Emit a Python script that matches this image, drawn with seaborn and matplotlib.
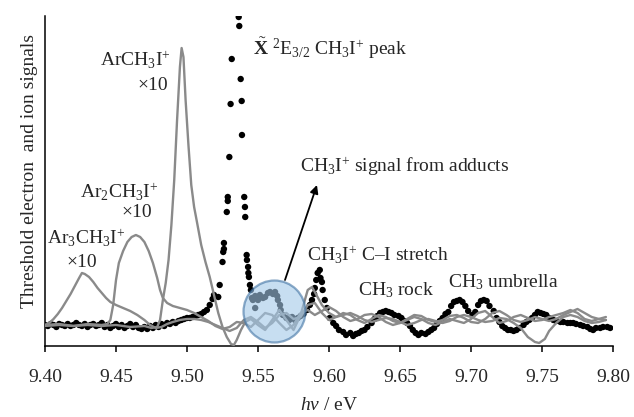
import matplotlib
matplotlib.use("Agg")
import matplotlib.pyplot as plt
import seaborn as sns
import pandas as pd

# ---------------- data ----------------
# Threshold photoelectron signal (black dots): photon energy (eV), signal (arb.)
tpes_x = [9.400, 9.402, 9.404, 9.406, 9.408, 9.410, 9.412, 9.414, 9.416, 9.418,
          9.420, 9.422, 9.424, 9.426, 9.428, 9.430, 9.432, 9.434, 9.436, 9.438,
          9.440, 9.442, 9.444, 9.446, 9.448, 9.450, 9.452, 9.454, 9.456, 9.458,
          9.460, 9.462, 9.464, 9.466, 9.468, 9.470, 9.472, 9.474, 9.476, 9.478,
          9.480, 9.482, 9.484, 9.486, 9.488, 9.490, 9.492, 9.494, 9.496, 9.498,
          9.500, 9.502, 9.504, 9.506, 9.508, 9.510, 9.512, 9.514, 9.516, 9.518,
          9.519, 9.522, 9.523, 9.525, 9.5255, 9.526, 9.526, 9.528, 9.5287, 9.5287,
          9.5298, 9.5307, 9.5315, 9.5364, 9.5368, 9.5378, 9.5385, 9.5387, 9.5403, 9.5408,
          9.541, 9.542, 9.5422, 9.543, 9.5432, 9.5436, 9.5443, 9.545, 9.5457, 9.5464,
          9.548, 9.548, 9.550, 9.5513, 9.5535, 9.555, 9.557, 9.5585, 9.5605, 9.562,
          9.5635, 9.564, 9.5655, 9.566, 9.5675, 9.570, 9.572, 9.574, 9.576, 9.578,
          9.580, 9.582, 9.5845, 9.5865, 9.588, 9.5895, 9.590, 9.591, 9.592, 9.5935,
          9.594, 9.595, 9.5955, 9.597, 9.5985, 9.6005, 9.603, 9.605, 9.607, 9.610,
          9.612, 9.615, 9.617, 9.619, 9.621, 9.623, 9.625, 9.627, 9.630, 9.632,
          9.634, 9.636, 9.638, 9.640, 9.642, 9.644, 9.646, 9.649, 9.651, 9.653,
          9.655, 9.657, 9.659, 9.661, 9.663, 9.665, 9.668, 9.670, 9.672, 9.674,
          9.676, 9.678, 9.680, 9.682, 9.684, 9.686, 9.688, 9.690, 9.692, 9.694,
          9.696, 9.698, 9.701, 9.703, 9.705, 9.707, 9.709, 9.711, 9.713, 9.716,
          9.718, 9.720, 9.722, 9.724, 9.726, 9.728, 9.730, 9.732, 9.734, 9.737,
          9.739, 9.741, 9.743, 9.745, 9.747, 9.749, 9.751, 9.753, 9.755, 9.758,
          9.760, 9.763, 9.765, 9.768, 9.770, 9.772, 9.774, 9.777, 9.779, 9.782,
          9.784, 9.786, 9.788, 9.791, 9.793, 9.796, 9.798]
tpes_y = [0, -1, 1, 0, -2, 1, 0, -1, 1, -1,
          0, 2, 0, -1, 1, -2, 0, 1, -1, 0,
          2, -2, 0, -3, -1, 1, -2, 0, -3, -1,
          1, -2, 0, -3, -4, -2, -4, -1, -3, 0,
          -2, 1, -1, 2, 1, 3, 2, 4, 5, 6,
          7, 7, 8, 9, 10, 11, 13, 15, 20, 26,
          30, 28, 40, 63, 73, 82, 76, 113, 128, 124,
          168, 221, 266, 308, 299, 246, 224, 190, 128, 118,
          108, 70, 65, 58, 52, 48, 40, 35, 27, 25,
          29, 17, 25, 30, 27, 28, 32, 33, 31, 33,
          29, 25, 20, 15, 10, 7, 5, 8, 5, 7,
          9, 11, 15, 20, 25, 31, 37, 45, 52, 55,
          47, 43, 35, 25, 17, 7, 2, -1, -5, -7,
          -10, -8, -11, -9, -8, -6, -5, -2, 2, 6,
          9, 12, 13, 14, 13, 12, 10, 9, 7, 4,
          2, -1, -5, -8, -10, -8, -9, -7, -5, -3,
          1, 4, 7, 11, 13, 19, 23, 24, 25, 23,
          19, 14, 10, 13, 20, 24, 25, 24, 19, 14,
          7, 3, -1, -3, -5, -5, -6, -5, -3, 0,
          3, 5, 7, 10, 13, 12, 11, 10, 7, 5,
          4, 3, 3, 2, 2, 2, 1, 0, -1, -2,
          -4, -5, -3, -3, -2, -2, -3]

# Ar3CH3I+ (x10)
ar3_x = [9.400, 9.403, 9.406, 9.409, 9.412, 9.415, 9.418, 9.421, 9.424, 9.426,
         9.428, 9.431, 9.434, 9.437, 9.440, 9.443, 9.446, 9.450, 9.455, 9.460,
         9.465, 9.470, 9.474, 9.478, 9.482, 9.486, 9.490, 9.495, 9.500, 9.505,
         9.510, 9.515, 9.520, 9.525, 9.530, 9.535, 9.540, 9.545, 9.550, 9.555,
         9.560, 9.565, 9.570, 9.575, 9.580, 9.585, 9.590, 9.595, 9.600, 9.605,
         9.610, 9.615, 9.620, 9.625, 9.630, 9.635, 9.640, 9.645, 9.650, 9.655,
         9.660, 9.665, 9.670, 9.675, 9.680, 9.685, 9.690, 9.695, 9.700, 9.705,
         9.710, 9.715, 9.720, 9.725, 9.730, 9.735, 9.740, 9.745, 9.750, 9.755,
         9.760, 9.765, 9.770, 9.775, 9.780, 9.785, 9.790, 9.795]
ar3_y = [0, 2, 6, 11, 17, 24, 31, 39, 47, 52,
         51, 48, 43, 37, 32, 27, 23, 20, 17, 14,
         10, 5, 0, -3, -2, 1, 3, 5, 6, 6,
         5, 3, 0, -3, -6, -3, 5, 8, 3, -3,
         2, 10, 12, 6, 8, 20, 22, 12, 5, 8,
         12, 10, 5, 2, 6, 10, 8, 4, 2, 5,
         8, 6, 2, 0, 3, 6, 4, 2, 6, 12,
         14, 8, 2, 4, 8, 10, 7, 4, 5, 8,
         10, 12, 15, 12, 6, 4, 6, 8]

# Ar2CH3I+ (x10)
ar2_x = [9.400, 9.410, 9.420, 9.430, 9.440, 9.444, 9.446, 9.448, 9.450, 9.452,
         9.455, 9.458, 9.461, 9.464, 9.467, 9.470, 9.473, 9.476, 9.479, 9.481,
         9.483, 9.486, 9.490, 9.495, 9.500, 9.505, 9.510, 9.515, 9.520, 9.525,
         9.530, 9.535, 9.540, 9.545, 9.550, 9.555, 9.560, 9.565, 9.570, 9.575,
         9.580, 9.585, 9.590, 9.595, 9.600, 9.605, 9.610, 9.615, 9.620, 9.625,
         9.630, 9.635, 9.640, 9.645, 9.650, 9.655, 9.660, 9.665, 9.670, 9.675,
         9.680, 9.685, 9.690, 9.695, 9.700, 9.705, 9.710, 9.715, 9.720, 9.725,
         9.730, 9.735, 9.740, 9.745, 9.750, 9.755, 9.760, 9.765, 9.770, 9.775,
         9.780, 9.785, 9.790, 9.795]
ar2_y = [-1, 0, -1, 1, 0, 1, 5, 20, 45, 62,
         74, 83, 88, 90, 88, 83, 74, 62, 47, 35,
         27, 22, 19, 17, 15, 12, 8, 4, -1, -4,
         -2, 3, 2, -2, 5, 12, 10, 2, -5, 0,
         12, 15, 10, 14, 18, 14, 8, 4, 6, 10,
         11, 8, 3, 0, 2, 6, 10, 9, 5, 3,
         5, 9, 10, 7, 3, 2, 6, 12, 14, 10,
         5, 3, 5, 8, 6, 4, 6, 10, 13, 16,
         12, 8, 6, 5]

# ArCH3I+ (x10)
ar1_x = [9.400, 9.410, 9.420, 9.430, 9.440, 9.450, 9.460, 9.470, 9.475, 9.479,
         9.481, 9.483, 9.485, 9.487, 9.489, 9.491, 9.493, 9.495, 9.4962, 9.4975,
         9.499, 9.501, 9.503, 9.505, 9.507, 9.510, 9.513, 9.516, 9.519, 9.522,
         9.525, 9.528, 9.531, 9.533, 9.535, 9.538, 9.541, 9.545, 9.550, 9.555,
         9.560, 9.565, 9.570, 9.575, 9.580, 9.585, 9.588, 9.590, 9.595, 9.600,
         9.605, 9.610, 9.615, 9.620, 9.625, 9.630, 9.635, 9.640, 9.645, 9.650,
         9.655, 9.660, 9.665, 9.670, 9.675, 9.680, 9.685, 9.690, 9.695, 9.700,
         9.705, 9.710, 9.715, 9.720, 9.725, 9.730, 9.735, 9.740, 9.745, 9.748,
         9.752, 9.755, 9.760, 9.765, 9.770, 9.775, 9.780, 9.785, 9.790, 9.795]
ar1_y = [0, 1, -1, 0, -1, 0, -2, -1, -3, -2,
         5, 25, 42, 65, 100, 145, 205, 258, 277, 268,
         225, 180, 140, 118, 103, 80, 63, 48, 30, 12,
         -2, -12, -19, -20, -15, -5, 3, 6, 0, -5,
         5, 15, 5, -5, 10, 35, 38, 33, 20, 12,
         8, 10, 12, 9, 5, 3, 5, 7, 6, 3,
         0, 2, 5, 6, 4, 2, 4, 8, 10, 8,
         5, 3, 4, 7, 6, 2, -3, -12, -17, -18,
         -14, -6, 2, 8, 10, 8, 4, 2, 3, 5]

x_ticks = [9.40, 9.45, 9.50, 9.55, 9.60, 9.65, 9.70, 9.75, 9.80]
x_ticklabels = ["9.40", "9.45", "9.50", "9.55", "9.60", "9.65", "9.70", "9.75", "9.80"]

# ---------------- style ----------------
sns.set_theme(style="white")
plt.rcParams["font.family"] = ["Liberation Serif", "DejaVu Serif"]
plt.rcParams["mathtext.fontset"] = "custom"
plt.rcParams["mathtext.rm"] = "Liberation Serif"
plt.rcParams["mathtext.it"] = "Liberation Serif:italic"
plt.rcParams["mathtext.bf"] = "Liberation Serif:bold"

FS = 14
GRAY = "#8a8a8a"

fig = plt.figure(figsize=(6.34, 4.17), dpi=100)
ax = fig.add_axes([0.071, 0.1703, 0.8959, 0.7913])

tpes = pd.DataFrame({"x": tpes_x, "y": tpes_y})
sns.scatterplot(data=tpes, x="x", y="y", ax=ax, color="black", s=21,
                edgecolor="none", linewidth=0, zorder=2)

for xs, ys in [(ar3_x, ar3_y), (ar2_x, ar2_y), (ar1_x, ar1_y)]:
    sns.lineplot(x=xs, y=ys, ax=ax, color=GRAY, lw=1.7, estimator=None,
                 sort=False, zorder=3)

# highlight circle around adduct signal
ax.scatter([9.5611], [14], s=1990, marker="o", facecolor="#a3c8e8",
           edgecolor="#3f72a3", linewidth=1.6, alpha=0.6, zorder=4)

ax.set_xlim(9.40, 9.80)
ax.set_ylim(-21, 309)
ax.set_xticks(x_ticks)
ax.set_xticklabels(x_ticklabels, fontsize=FS)
ax.set_yticks([])
ax.tick_params(axis="x", direction="out", length=4.5, width=1.1, color="black",
               pad=12, bottom=True)
for side in ["top", "right"]:
    ax.spines[side].set_visible(False)
for side in ["left", "bottom"]:
    ax.spines[side].set_color("black")
    ax.spines[side].set_linewidth(1.1)

ax.set_xlabel(r"$h\nu$ / eV", fontsize=FS, labelpad=8)
ax.set_ylabel("Threshold electron  and ion signals", fontsize=FS)
ax.yaxis.label.set_verticalalignment("center")
ax.yaxis.set_label_coords(-0.028, 0.53)

# annotations
ax.text(9.4885, 265, r"ArCH$_3$I$^{+}$", fontsize=FS, ha="right", va="center")
ax.text(9.4868, 240, "×10", fontsize=FS, ha="right", va="center")
ax.text(9.4795, 133, r"Ar$_2$CH$_3$I$^{+}$", fontsize=FS, ha="right", va="center")
ax.text(9.4755, 112, "×10", fontsize=FS, ha="right", va="center")
ax.text(9.4015, 87, r"Ar$_3$CH$_3$I$^{+}$", fontsize=FS, ha="left", va="center")
ax.text(9.4260, 62, "×10", fontsize=FS, ha="center", va="center")
ax.text(9.5465, 277, r"$\tilde{\mathbf{X}}$ ${}^{2}$E$_{3/2}$ CH$_3$I$^{+}$ peak",
        fontsize=FS, ha="left", va="center")
ax.text(9.5795, 158, r"CH$_3$I$^{+}$ signal from adducts", fontsize=FS,
        ha="left", va="center")
ax.text(9.5845, 70, r"CH$_3$I$^{+}$ C–I stretch", fontsize=FS, ha="left", va="center")
ax.text(9.6205, 35, r"CH$_3$ rock", fontsize=FS, ha="left", va="center")
ax.text(9.6837, 43, r"CH$_3$ umbrella", fontsize=FS, ha="left", va="center")

ax.annotate("", xy=(9.5915, 140), xytext=(9.569, 45),
            arrowprops=dict(arrowstyle="-|>", color="black", lw=1.3,
                            mutation_scale=12, shrinkA=0, shrinkB=0), zorder=5)

fig.savefig("out.png", dpi=100)
